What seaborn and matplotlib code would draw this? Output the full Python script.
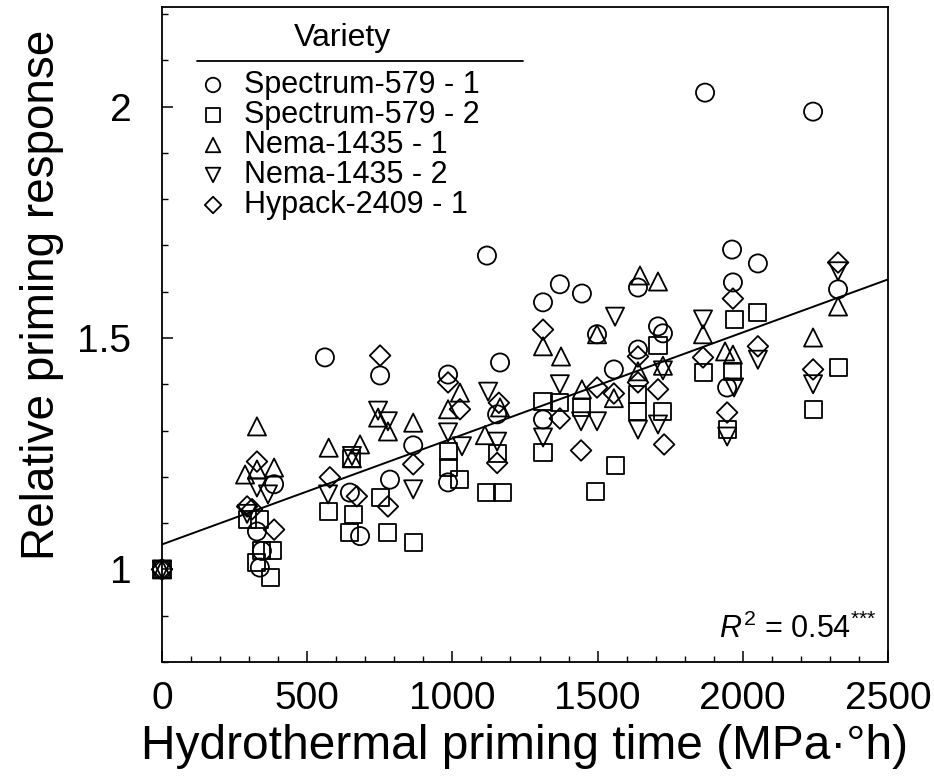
import numpy as np
import pandas as pd
import matplotlib
matplotlib.use("Agg")
import matplotlib.pyplot as plt
from matplotlib.lines import Line2D
from matplotlib.ticker import MultipleLocator
import seaborn as sns

# ---------------- data ----------------
varieties = ["Spectrum-579 - 1", "Spectrum-579 - 2", "Nema-1435 - 1",
             "Nema-1435 - 2", "Hypack-2409 - 1"]

s1_x = [0, 327, 337, 344, 386, 561, 647, 682, 751, 785, 865, 985, 985, 1119, 1154,
        1164, 1312, 1312, 1370, 1446, 1498, 1556, 1639, 1639, 1708, 1725, 1870,
        1946, 1963, 1966, 2052, 2242, 2328]
s1_y = [1.0, 1.082, 1.004, 1.04, 1.184, 1.458, 1.166, 1.072, 1.419, 1.194, 1.268,
        1.421, 1.188, 1.678, 1.335, 1.447, 1.577, 1.324, 1.616, 1.596, 1.508, 1.432,
        1.609, 1.475, 1.525, 1.51, 2.03, 1.393, 1.691, 1.62, 1.661, 1.989, 1.605]

s2_x = [0, 293, 327, 337, 344, 372, 382, 572, 647, 654, 658, 751, 778, 865, 985,
        985, 1026, 1119, 1154, 1171, 1312, 1312, 1370, 1443, 1494, 1560, 1639, 1639,
        1708, 1725, 1863, 1946, 1966, 1970, 2052, 2242, 2328]
s2_y = [1.0, 1.108, 1.015, 1.108, 1.04, 0.983, 1.04, 1.125, 1.08, 1.24, 1.119,
        1.155, 1.08, 1.058, 1.255, 1.22, 1.194, 1.166, 1.25, 1.166, 1.363, 1.253,
        1.36, 1.35, 1.168, 1.225, 1.378, 1.341, 1.484, 1.341, 1.425, 1.302, 1.428,
        1.54, 1.555, 1.346, 1.436]

s3_x = [0, 286, 327, 327, 386, 574, 654, 682, 744, 778, 865, 985, 1026, 1112, 1164,
        1312, 1374, 1446, 1498, 1556, 1639, 1646, 1708, 1725, 1863, 1939, 1966,
        2242, 2328]
s3_y = [1.0, 1.205, 1.309, 1.216, 1.22, 1.263, 1.24, 1.27, 1.328, 1.298, 1.317,
        1.346, 1.382, 1.29, 1.35, 1.482, 1.46, 1.389, 1.508, 1.37, 1.428, 1.635,
        1.622, 1.44, 1.508, 1.471, 1.464, 1.501, 1.568]

s4_x = [0, 293, 327, 365, 572, 654, 744, 778, 865, 985, 1033, 1123, 1154, 1312,
        1370, 1443, 1498, 1560, 1639, 1708, 1725, 1863, 1946, 1970, 2052, 2242, 2328]
s4_y = [1.0, 1.12, 1.177, 1.162, 1.162, 1.245, 1.343, 1.32, 1.173, 1.296, 1.266,
        1.384, 1.276, 1.285, 1.40, 1.32, 1.32, 1.546, 1.302, 1.313, 1.43, 1.54,
        1.287, 1.393, 1.453, 1.40, 1.644]

s5_x = [0, 293, 310, 327, 386, 578, 671, 751, 778, 865, 985, 1026, 1154, 1160,
        1312, 1370, 1443, 1498, 1556, 1639, 1639, 1708, 1729, 1863, 1946, 1966,
        2052, 2242, 2328]
s5_y = [1.0, 1.136, 1.13, 1.233, 1.086, 1.199, 1.158, 1.462, 1.136, 1.227, 1.404,
        1.346, 1.23, 1.36, 1.518, 1.326, 1.257, 1.393, 1.38, 1.46, 1.404, 1.389,
        1.27, 1.458, 1.339, 1.585, 1.482, 1.432, 1.663]

reg_intercept = 1.054
reg_slope = 0.000229
reg_x = [0, 2500]

x_ticks = [0, 500, 1000, 1500, 2000, 2500]
y_ticks = [1, 1.5, 2]
y_tick_labels = ["1", "1.5", "2"]

# ---------------- style ----------------
sns.set_theme(style="ticks")
plt.rcParams["font.family"] = ["Liberation Sans", "DejaVu Sans"]
plt.rcParams["mathtext.fontset"] = "custom"
plt.rcParams["mathtext.rm"] = "Liberation Sans"
plt.rcParams["mathtext.it"] = "Liberation Sans:italic"
for key in ["text.color", "axes.labelcolor", "xtick.color", "ytick.color",
            "axes.edgecolor"]:
    plt.rcParams[key] = "black"

W, H = 934, 778
fig = plt.figure(figsize=(W / 100, H / 100), dpi=100)
ax = fig.add_axes([162 / W, 1 - 662 / H, (888 - 162) / W, (662 - 7) / H])

series = [(s1_x, s1_y, "o"), (s2_x, s2_y, "s"), (s3_x, s3_y, "^"),
          (s4_x, s4_y, "v"), (s5_x, s5_y, "D")]
sizes = {"o": 170, "s": 150, "^": 170, "v": 170, "D": 110}
for (xs, ys, mk), name in zip(series, varieties):
    df = pd.DataFrame({"x": xs, "y": ys})
    sns.scatterplot(data=df, x="x", y="y", marker=mk, s=sizes[mk],
                    facecolor="none", edgecolor="black", linewidth=1.3,
                    label=name, ax=ax, clip_on=False, zorder=3)

reg_y = [reg_intercept + reg_slope * v for v in reg_x]
sns.lineplot(x=reg_x, y=reg_y, color="black", linewidth=1.4, ax=ax, zorder=2)

ax.set_xlim(0, 2500)
ax.set_ylim(0.8, 2.215)
ax.set_xticks(x_ticks)
ax.set_xticklabels([str(v) for v in x_ticks])
ax.set_yticks(y_ticks)
ax.set_yticklabels(y_tick_labels)
ax.xaxis.set_minor_locator(MultipleLocator(100))
ax.yaxis.set_minor_locator(MultipleLocator(0.1))
ax.tick_params(axis="both", which="major", direction="in", length=8, width=1.1,
               labelsize=28, colors="black")
ax.tick_params(axis="x", which="major", pad=14)
ax.tick_params(axis="y", which="major", pad=22)
ax.tick_params(axis="both", which="minor", direction="in", length=4.5, width=1.0)
for sp in ax.spines.values():
    sp.set_visible(True)
    sp.set_linewidth(1.3)
    sp.set_color("black")

ax.set_xlabel("Hydrothermal priming time (MPa\u00b7\u00b0h)", fontsize=34.5, labelpad=5)
ax.set_ylabel("Relative priming response", fontsize=33)
ax.yaxis.set_label_coords(-0.135, 0.56)

ax.text(0.985, 0.026, r"$R^2$ = 0.54$^{{*}{*}{*}}$", transform=ax.transAxes,
        ha="right", va="bottom", fontsize=22)

leg = ax.legend(loc="upper left", bbox_to_anchor=(197 / W, 1 - 70 / H),
                bbox_transform=fig.transFigure, frameon=False, fontsize=22,
                handletextpad=0.5, labelspacing=0.0, borderaxespad=0.0,
                borderpad=0.0, handlelength=1.05, markerscale=0.8)
fig.text(342 / W, 1 - 38 / H, "Variety", ha="center", va="center", fontsize=23)
fig.add_artist(Line2D([197 / W, 523 / W], [1 - 61 / H, 1 - 61 / H],
                      color="black", linewidth=1.3))

fig.savefig("out.png", dpi=100)
